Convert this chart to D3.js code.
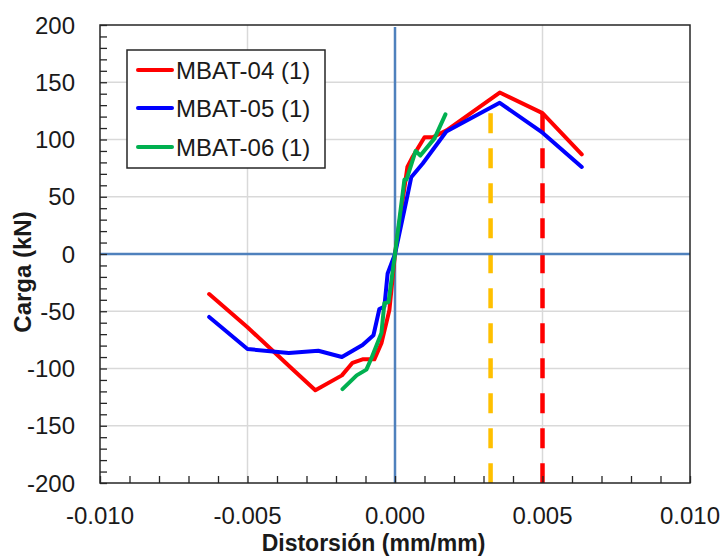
<!DOCTYPE html>
<html>
<head>
<meta charset="utf-8">
<script src="https://cdn.jsdelivr.net/npm/d3@7"></script>
<style>
  html, body { margin: 0; padding: 0; background: #fff; }
  svg { display: block; font-family: "Liberation Sans", Arial, sans-serif; }
</style>
</head>
<body>
<svg id="chart" width="726" height="558"></svg>
<script>
// Load-distortion curves (distortion in mm/mm, load in kN)
const mbat04X = [-0.0063, -0.0050, -0.0035, -0.0027, -0.0018, -0.00144, -0.0011, -0.0007, -0.00046, -0.00019, 0, 0.00042, 0.0006, 0.0010, 0.00128, 0.00175, 0.00355, 0.0050, 0.00633];
const mbat04Y = [-35, -64, -100, -119, -106, -95, -92, -92, -78, -49, 0, 76, 85, 102, 102, 108, 141, 123, 87];

const mbat05X = [-0.0063, -0.0050, -0.0036, -0.0026, -0.0018, -0.0011, -0.00073, -0.00053, -0.00036, -0.00025, 0, 0.00039, 0.00055, 0.00094, 0.00174, 0.00355, 0.0050, 0.00633];
const mbat05Y = [-55, -83, -86.5, -84.5, -90, -79.5, -71, -48, -46, -17, 0, 47, 67, 79, 107, 132, 106, 76];

const mbat06X = [-0.00178, -0.0013, -0.00097, -0.0008, -0.00046, -0.00036, -0.00022, 0, 0.00032, 0.00039, 0.0007, 0.00086, 0.00134, 0.00171];
const mbat06Y = [-118, -106, -101, -91, -69, -43, -42, 0, 65, 65, 90, 86, 101, 122];

const seriesNames = ["MBAT-04 (1)", "MBAT-05 (1)", "MBAT-06 (1)"];
const seriesColors = ["#ff0000", "#0000ff", "#00b050"];

// Reference distortion limits drawn as dashed verticals
const limitX = [0.00324, 0.0050];
const limitTop = [123, 123];
const limitColors = ["#ffc000", "#ff0000"];

const xTicks = [-0.010, -0.005, 0.000, 0.005, 0.010];
const yTicks = [-200, -150, -100, -50, 0, 50, 100, 150, 200];

const svg = d3.select("#chart");
const plotLeft = 100, plotRight = 690, plotTop = 25, plotBottom = 483;

const x = d3.scaleLinear().domain([-0.010, 0.010]).range([plotLeft, plotRight]);
const y = d3.scaleLinear().domain([-200, 200]).range([plotBottom, plotTop]);

// Grid lines
const grid = svg.append("g");
grid.selectAll("line.h").data(yTicks.filter(v => Math.abs(v) !== 200 && v !== 0)).join("line")
  .attr("class", "h")
  .attr("x1", plotLeft).attr("x2", plotRight)
  .attr("y1", d => y(d)).attr("y2", d => y(d))
  .attr("stroke", "#d9d9d9").attr("stroke-width", 1.5);
grid.selectAll("line.v").data(xTicks.filter(v => Math.abs(v) < 0.0099 && v !== 0)).join("line")
  .attr("class", "v")
  .attr("x1", d => x(d)).attr("x2", d => x(d))
  .attr("y1", plotTop).attr("y2", plotBottom)
  .attr("stroke", "#d9d9d9").attr("stroke-width", 1.5);

// Dashed limit lines
svg.append("g").selectAll("line").data(limitX).join("line")
  .attr("x1", d => x(d)).attr("x2", d => x(d))
  .attr("y1", (d, i) => y(limitTop[i])).attr("y2", plotBottom)
  .attr("stroke", (d, i) => limitColors[i])
  .attr("stroke-width", 4.5)
  .attr("stroke-dasharray", "20 15");

// Zero lines
svg.append("line")
  .attr("x1", plotLeft).attr("x2", plotRight).attr("y1", y(0)).attr("y2", y(0))
  .attr("stroke", "#4f81bd").attr("stroke-width", 2.5);
svg.append("line")
  .attr("x1", x(0)).attr("x2", x(0)).attr("y1", plotTop + 2).attr("y2", plotBottom)
  .attr("stroke", "#4f81bd").attr("stroke-width", 2.5);

// Curves
const seriesX = [mbat04X, mbat05X, mbat06X];
const seriesY = [mbat04Y, mbat05Y, mbat06Y];
const line = d3.line().x(d => x(d[0])).y(d => y(d[1]));
seriesX.forEach((xs, i) => {
  const pts = xs.map((v, j) => [v, seriesY[i][j]]);
  svg.append("path").datum(pts)
    .attr("d", line)
    .attr("fill", "none")
    .attr("stroke", seriesColors[i])
    .attr("stroke-width", 4)
    .attr("stroke-linejoin", "round")
    .attr("stroke-linecap", "round");
});

// Frame
svg.append("rect")
  .attr("x", plotLeft).attr("y", plotTop)
  .attr("width", plotRight - plotLeft).attr("height", plotBottom - plotTop)
  .attr("fill", "none").attr("stroke", "#262626").attr("stroke-width", 1.5);

// Axes with inward minor ticks
const yAxis = d3.axisRight(y).tickValues(d3.range(-200, 201, 10)).tickSize(7).tickFormat("");
svg.append("g").attr("transform", `translate(${plotLeft},0)`).call(yAxis)
  .call(g => g.select(".domain").remove())
  .call(g => g.selectAll("line").attr("stroke", "#262626").attr("stroke-width", 1.3));

const xAxis = d3.axisTop(x).tickValues(d3.range(-10, 11).map(v => v / 1000)).tickSize(7).tickFormat("");
svg.append("g").attr("transform", `translate(0,${plotBottom})`).call(xAxis)
  .call(g => g.select(".domain").remove())
  .call(g => g.selectAll("line").attr("stroke", "#262626").attr("stroke-width", 1.3));

// Tick labels
svg.append("g").selectAll("text").data(yTicks).join("text")
  .attr("x", 75).attr("y", d => y(d)).attr("dy", "0.36em")
  .attr("text-anchor", "end")
  .attr("font-size", 24).attr("fill", "#1a1a1a")
  .text(d => d);

svg.append("g").selectAll("text").data(xTicks).join("text")
  .attr("x", d => x(d)).attr("y", 524)
  .attr("text-anchor", "middle")
  .attr("font-size", 24).attr("fill", "#1a1a1a")
  .text(d => d3.format(".3f")(d).replace("\u2212", "-"));

// Axis titles
svg.append("text")
  .attr("x", 373.5).attr("y", 551)
  .attr("text-anchor", "middle")
  .attr("font-size", 23).attr("font-weight", "bold").attr("fill", "#1a1a1a")
  .text("Distorsión (mm/mm)");

svg.append("text")
  .attr("transform", "translate(31,272) rotate(-90)")
  .attr("text-anchor", "middle")
  .attr("font-size", 24).attr("font-weight", "bold").attr("fill", "#1a1a1a")
  .text("Carga (kN)");

// Legend
const legend = svg.append("g");
legend.append("rect")
  .attr("x", 127).attr("y", 50).attr("width", 198).attr("height", 118)
  .attr("fill", "#fff").attr("stroke", "#262626").attr("stroke-width", 1.5);
const rowY = [70, 108, 147];
seriesNames.forEach((name, i) => {
  legend.append("line")
    .attr("x1", 138).attr("x2", 172).attr("y1", rowY[i]).attr("y2", rowY[i])
    .attr("stroke", seriesColors[i]).attr("stroke-width", 4).attr("stroke-linecap", "round");
  legend.append("text")
    .attr("x", 176).attr("y", rowY[i]).attr("dy", "0.36em")
    .attr("font-size", 24).attr("fill", "#1a1a1a")
    .text(name);
});
</script>
</body>
</html>
